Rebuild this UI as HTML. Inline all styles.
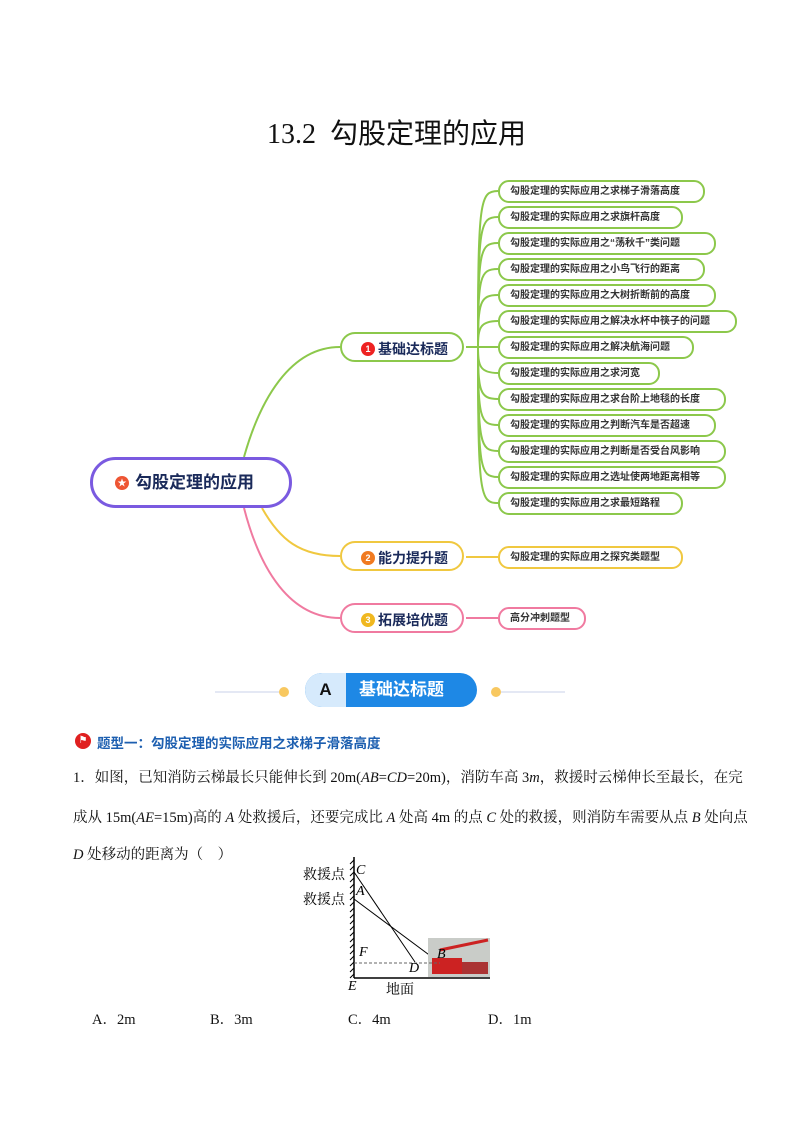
<!DOCTYPE html>
<html><head><meta charset="utf-8"><style>
body{margin:0;background:#fff;}
.pg{position:relative;width:793px;height:1122px;overflow:hidden;font-family:"Liberation Serif","Noto Serif CJK SC",serif;}
.a{position:absolute;white-space:nowrap;}
.leaf{position:absolute;left:498px;height:19px;border:2px solid #8cc84b;border-radius:11px;font:bold 10px "Liberation Sans","Noto Sans CJK SC",sans-serif;color:#333;line-height:19px;padding-left:10px;box-sizing:content-box;}
.br{position:absolute;left:340px;width:124px;height:30px;border:2px solid;border-radius:16px;font:bold 14px "Liberation Sans","Noto Sans CJK SC",sans-serif;color:#1a2a5a;line-height:30px;padding-left:36px;box-sizing:border-box;}
.num{position:absolute;left:19px;top:8px;width:14px;height:14px;border-radius:7px;color:#fff;font-size:9px;line-height:14px;text-align:center;}
.t{font-size:14.5px;color:#111;}
</style></head><body><div class="pg">
<div class="a" style="left:0;width:793px;top:112px;text-align:center;font-size:28px;color:#111;">13.2&nbsp; <span style="font-family:'Noto Sans CJK SC',sans-serif;">勾股定理的应用</span></div>

<svg class="a" style="left:0;top:0" width="793" height="1122">
<g fill="none" stroke-width="2">
<path d="M244 457 C260 400 290 347 340 347" stroke="#8cc84b"/>
<path d="M262 508 C280 540 300 556 340 556" stroke="#f0c840"/>
<path d="M244 508 C260 570 290 618 340 618" stroke="#f07aa0"/>
<g stroke="#8cc84b">
<path d="M466 347 L478 347"/>
<path d="M478 347 C478 200 480 191 498 191"/><path d="M478 347 C478 225 480 217 498 217"/><path d="M478 347 C478 250 480 243 498 243"/><path d="M478 347 C478 276 480 269 498 269"/><path d="M478 347 C478 302 480 295 498 295"/><path d="M478 347 C478 328 480 321 498 321"/><path d="M478 347 L498 347"/><path d="M478 347 C478 366 480 373 498 373"/><path d="M478 347 C478 392 480 399 498 399"/><path d="M478 347 C478 418 480 425 498 425"/><path d="M478 347 C478 444 480 451 498 451"/><path d="M478 347 C478 470 480 477 498 477"/><path d="M478 347 C478 496 480 503 498 503"/>
</g>
<path d="M466 557 L498 557" stroke="#f0c840"/>
<path d="M466 618 L498 618" stroke="#f07aa0"/>
</g>
<line x1="215" y1="692" x2="282" y2="692" stroke="#c8d0e8"/><circle cx="284" cy="692" r="5" fill="#f8c860"/>
<line x1="498" y1="692" x2="565" y2="692" stroke="#c8d0e8"/><circle cx="496" cy="692" r="5" fill="#f8c860"/>
<!-- figure -->
<g stroke="#000" fill="none" stroke-width="1">
<line x1="354" y1="857" x2="354" y2="978" stroke-width="1.5"/>
<path d="M354 860 l-4 4 M354 866 l-4 4 M354 872 l-4 4 M354 878 l-4 4 M354 884 l-4 4 M354 890 l-4 4 M354 896 l-4 4 M354 902 l-4 4 M354 908 l-4 4 M354 914 l-4 4 M354 920 l-4 4 M354 926 l-4 4 M354 932 l-4 4 M354 938 l-4 4 M354 944 l-4 4 M354 950 l-4 4 M354 956 l-4 4 M354 962 l-4 4 M354 968 l-4 4 M354 974 l-4 4"/>
<line x1="354" y1="872" x2="415" y2="962"/><line x1="354" y1="899" x2="440" y2="963"/>
<line x1="354" y1="978" x2="490" y2="978" stroke-width="1.5"/>
</g>
<rect x="428" y="938" width="62" height="39" fill="#c9ccc8"/>
<rect x="432" y="958" width="30" height="16" fill="#c22"/><path d="M440 950 L488 940" stroke="#c22" stroke-width="3"/><rect x="462" y="962" width="26" height="12" fill="#a33"/>
<line x1="354" y1="963" x2="440" y2="963" stroke="#666" stroke-dasharray="3,2"/>
</svg>

<div class="a" style="left:90px;top:457px;width:202px;height:51px;border:3px solid #7a5ae0;border-radius:26px;box-sizing:border-box;font:bold 17px 'Liberation Sans','Noto Sans CJK SC',sans-serif;color:#1a2a5a;line-height:45px;padding-left:42px;"><span style="position:absolute;left:22px;top:16px;width:14px;height:14px;border-radius:7px;background:#e53;color:#fff;font-size:9px;line-height:14px;text-align:center;">★</span>勾股定理的应用</div>

<div class="br" style="top:332px;border-color:#8cc84b"><span class="num" style="background:#e22">1</span>基础达标题</div>
<div class="br" style="top:541px;border-color:#f0c840"><span class="num" style="background:#f07a20">2</span>能力提升题</div>
<div class="br" style="top:603px;border-color:#f07aa0"><span class="num" style="background:#f0b820">3</span>拓展培优题</div>

<div class="leaf" style="top:180px;width:193px">勾股定理的实际应用之求梯子滑落高度</div>
<div class="leaf" style="top:206px;width:171px">勾股定理的实际应用之求旗杆高度</div>
<div class="leaf" style="top:232px;width:204px">勾股定理的实际应用之“荡秋千”类问题</div>
<div class="leaf" style="top:258px;width:193px">勾股定理的实际应用之小鸟飞行的距离</div>
<div class="leaf" style="top:284px;width:204px">勾股定理的实际应用之大树折断前的高度</div>
<div class="leaf" style="top:310px;width:225px">勾股定理的实际应用之解决水杯中筷子的问题</div>
<div class="leaf" style="top:336px;width:182px">勾股定理的实际应用之解决航海问题</div>
<div class="leaf" style="top:362px;width:148px">勾股定理的实际应用之求河宽</div>
<div class="leaf" style="top:388px;width:214px">勾股定理的实际应用之求台阶上地毯的长度</div>
<div class="leaf" style="top:414px;width:204px">勾股定理的实际应用之判断汽车是否超速</div>
<div class="leaf" style="top:440px;width:214px">勾股定理的实际应用之判断是否受台风影响</div>
<div class="leaf" style="top:466px;width:214px">勾股定理的实际应用之选址使两地距离相等</div>
<div class="leaf" style="top:492px;width:171px">勾股定理的实际应用之求最短路程</div>
<div class="leaf" style="top:546px;width:171px;border-color:#f0c840">勾股定理的实际应用之探究类题型</div>
<div class="leaf" style="top:607px;width:74px;border-color:#f07aa0">高分冲刺题型</div>

<div class="a" style="left:305px;top:673px;width:172px;height:34px;border-radius:17px;background:#1e88e5;overflow:hidden;font:bold 17px 'Liberation Sans','Noto Sans CJK SC',sans-serif;color:#fff;line-height:34px;">
<span style="position:absolute;left:0;top:0;width:41px;height:34px;background:#d6eafc;color:#111;text-align:center;">A</span><span style="position:absolute;left:54px;">基础达标题</span></div>

<div class="a" style="left:75px;top:733px;width:16px;height:16px;border-radius:8px;background:#e02020;color:#fff;font-size:10px;line-height:16px;text-align:center;">⚑</div>
<div class="a" style="left:97px;top:732px;font:bold 13.5px 'Liberation Sans','Noto Sans CJK SC',sans-serif;color:#1d5fb0;">题型一：勾股定理的实际应用之求梯子滑落高度</div>

<div class="a t" style="left:73px;top:766px;">1．如图，已知消防云梯最长只能伸长到 20m(<i>AB</i>=<i>CD</i>=20m)，消防车高 3<i>m</i>，救援时云梯伸长至最长，在完</div>
<div class="a t" style="left:73px;top:806px;">成从 15m(<i>AE</i>=15m)高的 <i>A</i> 处救援后，还要完成比 <i>A</i> 处高 4m 的点 <i>C</i> 处的救援，则消防车需要从点 <i>B</i> 处向点</div>
<div class="a t" style="left:73px;top:843px;"><i>D</i> 处移动的距离为（　）</div>

<div class="a" style="left:303px;top:864px;font-size:14px;">救援点</div>
<div class="a" style="left:303px;top:889px;font-size:14px;">救援点</div>
<div class="a" style="left:356px;top:863px;font-size:14px;"><i>C</i></div>
<div class="a" style="left:356px;top:884px;font-size:14px;"><i>A</i></div>
<div class="a" style="left:359px;top:945px;font-size:14px;"><i>F</i></div>
<div class="a" style="left:409px;top:961px;font-size:14px;"><i>D</i></div>
<div class="a" style="left:437px;top:947px;font-size:14px;"><i>B</i></div>
<div class="a" style="left:348px;top:979px;font-size:14px;"><i>E</i></div>
<div class="a" style="left:386px;top:979px;font-size:14px;">地面</div>

<div class="a t" style="left:92px;top:1008px;">A．2m</div>
<div class="a t" style="left:210px;top:1008px;">B．3m</div>
<div class="a t" style="left:348px;top:1008px;">C．4m</div>
<div class="a t" style="left:488px;top:1008px;">D．1m</div>
</div></body></html>
